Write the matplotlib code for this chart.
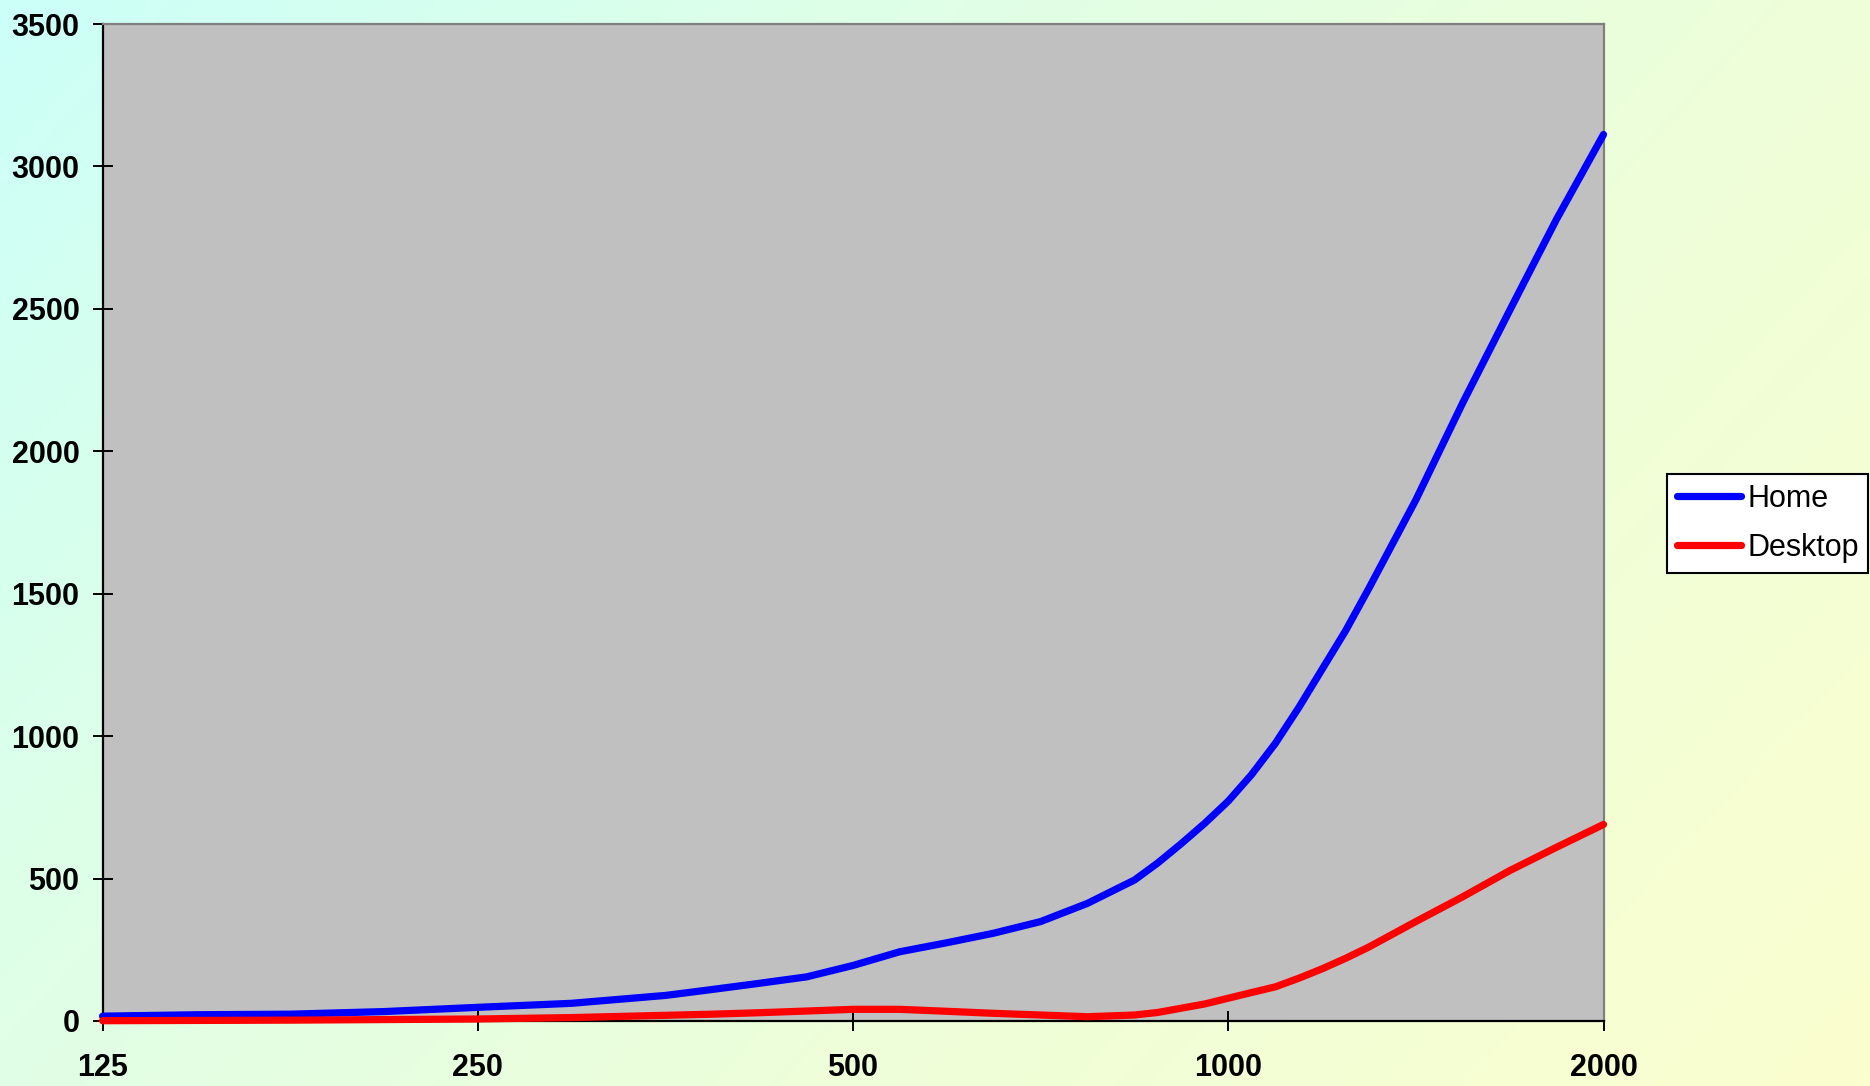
import numpy as np
import matplotlib
matplotlib.use("Agg")
import matplotlib.pyplot as plt
from matplotlib.colors import LinearSegmentedColormap

# Problem size (log2 spaced) and measured values for each machine
sizes = [125, 149, 177, 210, 250, 297, 354, 386, 420, 459, 500, 545, 595, 648,
         707, 771, 841, 878, 917, 958, 1000, 1044, 1091, 1139, 1189, 1242, 1297,
         1414, 1542, 1682, 1834, 2000]
home = [17, 22, 24, 33, 48, 62, 90, 111, 132, 155, 195, 243, 275, 308,
        349, 413, 495, 555, 623, 695, 772, 865, 975, 1100, 1234, 1370, 1520,
        1829, 2170, 2495, 2815, 3112]
desktop = [1, 2, 3, 5, 7, 12, 20, 24, 29, 35, 41, 41, 34, 27,
           21, 15, 21, 30, 45, 60, 80, 100, 120, 150, 183, 220, 260,
           349, 436, 528, 610, 690]

x_ticks = [125, 250, 500, 1000, 2000]
x_tick_labels = ["125", "250", "500", "1000", "2000"]
y_ticks = [0, 500, 1000, 1500, 2000, 2500, 3000, 3500]

W, H, DPI = 1870, 1086, 100
fig = plt.figure(figsize=(W / DPI, H / DPI), dpi=DPI)

# Diagonal pastel gradient behind everything
bg = fig.add_axes([0, 0, 1, 1], zorder=-10)
gx, gy = np.meshgrid(np.linspace(0, 1, 400), np.linspace(0, 1, 240))
t = (gx * 0.65 + gy * 0.35)
cmap = LinearSegmentedColormap.from_list(
    "bg", ["#ccfff8", "#e0ffe6", "#effed8", "#fbffcf"])
bg.imshow(t, cmap=cmap, aspect="auto", extent=[0, 1, 0, 1], origin="upper",
          interpolation="bilinear")
bg.set_axis_off()

ax = fig.add_axes([102.6 / W, 1 - 1021 / H, (1603.5 - 102.6) / W, (1021 - 24) / H])
ax.set_facecolor("#c0c0c0")

ax.plot(sizes, home, color="#0000ff", lw=5.2, solid_capstyle="round",
        solid_joinstyle="round", clip_on=False, label="Home", zorder=3)
ax.plot(sizes, desktop, color="#ff0000", lw=5.2, solid_capstyle="round",
        solid_joinstyle="round", clip_on=False, label="Desktop", zorder=3)

ax.set_xscale("log", base=2)
ax.set_xlim(125, 2000)
ax.set_ylim(0, 3500)
ax.set_xticks(x_ticks)
ax.set_xticklabels(x_tick_labels)
ax.xaxis.set_minor_locator(matplotlib.ticker.NullLocator())
ax.set_yticks(y_ticks)
ax.set_yticklabels([str(v) for v in y_ticks])

for side in ("left", "bottom"):
    ax.spines[side].set_color("black")
    ax.spines[side].set_linewidth(1.6)
for side in ("top", "right"):
    ax.spines[side].set_color("#808080")
    ax.spines[side].set_linewidth(1.6)

ax.tick_params(axis="both", direction="inout", length=14.4, width=1.4,
               color="black", labelsize=22)
ax.tick_params(axis="y", pad=9.5)
ax.tick_params(axis="x", pad=15.5)
for lab in ax.get_xticklabels() + ax.get_yticklabels():
    lab.set_fontfamily("Liberation Sans")
    lab.set_fontweight("bold")

leg = fig.legend(loc="upper left", bbox_to_anchor=(1667 / W, 1 - 474 / H),
                 frameon=True, fancybox=False, framealpha=1,
                 prop={"family": "Liberation Sans", "size": 22},
                 handlelength=2.1, handletextpad=0.2, borderpad=0.32,
                 labelspacing=0.62, borderaxespad=0)
leg.get_frame().set_edgecolor("black")
leg.get_frame().set_linewidth(1.5)
for ln in leg.get_lines():
    ln.set_linewidth(5.2)
    ln.set_solid_capstyle("round")

fig.savefig("out.png", dpi=DPI)
